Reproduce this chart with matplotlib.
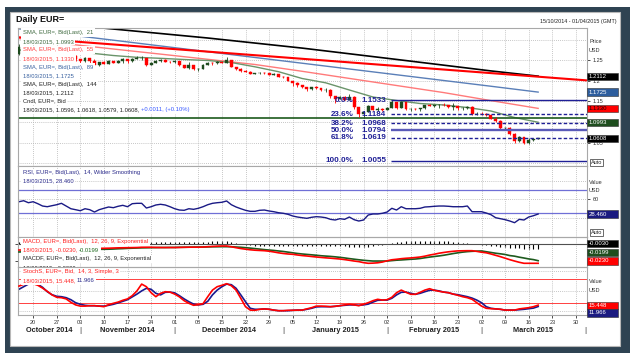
import numpy as np
import pandas as pd
import matplotlib
matplotlib.use("Agg")
import matplotlib.pyplot as plt
from matplotlib.patches import Rectangle
from matplotlib.transforms import blended_transform_factory as blend

plt.rcParams['font.family'] = ['Liberation Sans', 'DejaVu Sans']

W, H = 630, 358

# ---- data -------------------------------------------------------------
days = pd.bdate_range("2014-10-15", "2015-04-01")   # x axis, trading days

first_open = 1.2650
last_open = 1.0596
closes = [1.2816, 1.2810, 1.2760, 1.2800, 1.2712, 1.2645, 1.2650, 1.2670, 1.2700, 1.2735,
          1.2630, 1.2610, 1.2525, 1.2485, 1.2550, 1.2485, 1.2375, 1.2450, 1.2410, 1.2480,
          1.2440, 1.2475, 1.2525, 1.2475, 1.2535, 1.2545, 1.2545, 1.2390, 1.2440, 1.2470,
          1.2510, 1.2465, 1.2450, 1.2470, 1.2380, 1.2310, 1.2375, 1.2290, 1.2290, 1.2380,
          1.2440, 1.2420, 1.2465, 1.2440, 1.2500, 1.2340, 1.2290, 1.2230, 1.2225, 1.2170,
          1.2185, 1.2190, 1.2180, 1.2150, 1.2155, 1.2100, 1.2090, 1.2000, 1.1935, 1.1890,
          1.1840, 1.1790, 1.1840, 1.1830, 1.1775, 1.1780, 1.1630, 1.1565, 1.1610, 1.1545,
          1.1610, 1.1365, 1.1205, 1.1240, 1.1380, 1.1290, 1.1320, 1.1290, 1.1345, 1.1480,
          1.1340, 1.1480, 1.1315, 1.1325, 1.1310, 1.1330, 1.1400, 1.1390, 1.1405, 1.1410,
          1.1400, 1.1375, 1.1380, 1.1330, 1.1345, 1.1365, 1.1195, 1.1195, 1.1185, 1.1175,
          1.1075, 1.1030, 1.0845, 1.0850, 1.0700, 1.0550, 1.0630, 1.0495, 1.0570, 1.0595,
          1.0608]
highs = [1.2887, 1.2845, 1.2810, 1.2815, 1.2840, 1.2730, 1.2680, 1.2700, 1.2715, 1.2765,
         1.2770, 1.2645, 1.2620, 1.2530, 1.2580, 1.2560, 1.2530, 1.2460, 1.2470, 1.2500,
         1.2480, 1.2500, 1.2550, 1.2535, 1.2545, 1.2600, 1.2600, 1.2555, 1.2445, 1.2500,
         1.2530, 1.2525, 1.2480, 1.2500, 1.2475, 1.2385, 1.2455, 1.2385, 1.2315, 1.2400,
         1.2460, 1.2465, 1.2475, 1.2475, 1.2570, 1.2500, 1.2345, 1.2300, 1.2255, 1.2245,
         1.2200, 1.2205, 1.2205, 1.2190, 1.2180, 1.2165, 1.2105, 1.2100, 1.2005, 1.1960,
         1.1900, 1.1850, 1.1845, 1.1870, 1.1830, 1.1815, 1.1800, 1.1640, 1.1640, 1.1620,
         1.1680, 1.1630, 1.1365, 1.1270, 1.1420, 1.1385, 1.1365, 1.1345, 1.1375, 1.1535,
         1.1485, 1.1500, 1.1490, 1.1340, 1.1345, 1.1350, 1.1420, 1.1445, 1.1415, 1.1440,
         1.1450, 1.1410, 1.1450, 1.1385, 1.1360, 1.1390, 1.1390, 1.1240, 1.1230, 1.1225,
         1.1180, 1.1115, 1.1040, 1.0880, 1.0880, 1.0720, 1.0650, 1.0635, 1.0615, 1.0620,
         1.0618]
lows = [1.2620, 1.2745, 1.2720, 1.2740, 1.2700, 1.2640, 1.2615, 1.2630, 1.2655, 1.2680,
        1.2620, 1.2560, 1.2490, 1.2440, 1.2460, 1.2440, 1.2360, 1.2360, 1.2400, 1.2400,
        1.2420, 1.2430, 1.2440, 1.2440, 1.2465, 1.2520, 1.2500, 1.2360, 1.2385, 1.2420,
        1.2450, 1.2445, 1.2420, 1.2420, 1.2360, 1.2300, 1.2280, 1.2270, 1.2245, 1.2280,
        1.2380, 1.2390, 1.2400, 1.2420, 1.2430, 1.2330, 1.2260, 1.2215, 1.2205, 1.2160,
        1.2160, 1.2175, 1.2170, 1.2140, 1.2140, 1.2085, 1.2075, 1.2000, 1.1865, 1.1860,
        1.1820, 1.1755, 1.1775, 1.1800, 1.1760, 1.1730, 1.1575, 1.1460, 1.1550, 1.1540,
        1.1535, 1.1315, 1.1115, 1.1100, 1.1240, 1.1280, 1.1260, 1.1270, 1.1285, 1.1340,
        1.1325, 1.1340, 1.1300, 1.1270, 1.1290, 1.1275, 1.1310, 1.1385, 1.1355, 1.1350,
        1.1390, 1.1340, 1.1280, 1.1300, 1.1290, 1.1325, 1.1175, 1.1180, 1.1160, 1.1155,
        1.1060, 1.1000, 1.0840, 1.0820, 1.0690, 1.0495, 1.0525, 1.0465, 1.0460, 1.0530,
        1.0579]
opens = [first_open] + closes[:-1]
opens[-1] = last_open

# moving averages, read at a few trading-day positions
sma21_idx = list(range(0, 111, 5))
sma21 = [1.2747, 1.2722, 1.2698, 1.2674, 1.2613, 1.2569, 1.2545, 1.2516, 1.2492, 1.2443,
         1.2339, 1.2220, 1.2055, 1.1950, 1.1776, 1.1606, 1.1521, 1.1448, 1.1412, 1.1351,
         1.1266, 1.1108, 1.0993]
sma55_idx = list(range(0, 111, 10))
sma55 = [1.3023, 1.2897, 1.2771, 1.2647, 1.2521, 1.2395, 1.2230, 1.2057, 1.1885, 1.1713,
         1.1518, 1.1330]
sma_long_idx = [0, 20, 40, 60, 80, 100, 110]
sma89 = [1.3261, 1.2985, 1.2705, 1.2426, 1.2146, 1.1867, 1.1725]
sma144 = [1.3468, 1.3256, 1.3038, 1.2793, 1.2518, 1.2239, 1.2112]

trend_ends = [1.3057, 1.2009]     # red trend line, left edge -> right edge
support = 1.1089

fib_pcts = ["0.0%", "23.6%", "38.2%", "50.0%", "61.8%", "100.0%"]
fib_levels = [1.1533, 1.1184, 1.0968, 1.0794, 1.0619, 1.0055]
fib_start = 79                    # 03/02/2015 high

rsi = [54.8, 57, 52.7, 54.8, 50.6, 45.6, 44.1, 46.3, 48.4, 51.4,
       45.6, 39.8, 37.7, 35.5, 39.8, 37.7, 32.7, 37.7, 40.7, 43.5,
       42, 45, 47.1, 44.1, 50.6, 51.4, 51.4, 41.3, 44.1, 47.8,
       49.3, 47.8, 44.1, 39.8, 37, 36.4, 39.8, 38.5, 40.7, 44.1,
       48.4, 51.4, 52.7, 53.6, 56.4, 48.4, 43.5, 39.8, 36.4, 34.2,
       34.2, 36.4, 37, 34.9, 33.4, 31.2, 30, 27.8, 24.2, 22,
       20.5, 19.2, 21.4, 22.7, 22, 20.5, 17, 15.6, 18.4, 17,
       22, 16.3, 13.4, 15.6, 26.3, 28.5, 28.5, 30, 32.7, 40.7,
       37, 44.1, 39.8, 39.8, 39.8, 40.7, 43.5, 44.1, 45, 45.6,
       45.6, 45, 44.1, 44.1, 44.1, 45.6, 33.4, 33.4, 33.4, 30.6,
       27, 20.5, 18.4, 16.3, 13.4, 9.8, 17, 15.6, 22, 24.8,
       28.46]

# MACD values listed in units of 1e-4
macd = np.array([-72, -72, -68, -66, -63, -62, -60, -60, -57, -56,
                 -55, -54, -54, -52, -52, -52, -52, -52, -51, -50,
                 -48, -46, -45, -44, -43, -42, -39, -39, -39, -41,
                 -42, -42, -42, -42, -41, -39, -38, -38, -38, -36,
                 -32, -29, -26, -24, -24, -33, -44, -54, -62, -69,
                 -74, -77, -80, -86, -95, -105, -113, -119, -123, -131,
                 -138, -143, -149, -155, -160, -165, -169, -174, -179, -186,
                 -194, -203, -210, -222, -230, -228, -224, -215, -200, -188,
                 -182, -175, -170, -166, -161, -155, -145, -132, -122, -110,
                 -101, -93, -87, -82, -81, -80, -80, -88, -98, -105,
                 -119, -135, -151, -169, -187, -203, -218, -230, -230, -230,
                 -230]) / 1e4
macd_signal = np.array([-95, -93, -89, -86, -83, -80, -76, -74, -72, -69,
                        -67, -66, -64, -64, -63, -63, -63, -63, -63, -62,
                        -60, -57, -55, -52, -50, -48, -46, -45, -44, -43,
                        -42, -42, -41, -41, -39, -39, -38, -37, -36, -36,
                        -35, -33, -33, -32, -32, -33, -36, -39, -44, -49,
                        -55, -61, -67, -72, -77, -83, -89, -97, -105, -113,
                        -119, -124, -129, -134, -140, -144, -148, -153, -159, -166,
                        -174, -181, -188, -194, -199, -203, -203, -203, -203, -198,
                        -193, -190, -186, -182, -179, -173, -164, -156, -149, -142,
                        -134, -124, -114, -105, -97, -91, -87, -85, -83, -92,
                        -101, -110, -117, -125, -138, -145, -157, -167, -178, -186,
                        -199]) / 1e4
macd_hist = np.array([10, 10, 10, 10, 10, 10, 10, 9, 9, 9, 9, 9, 9,
                      10, 10, 10, 11, 11, 11, 11, 11, 12, 12, 12, 12, 12, 12, 12, 11, 11, 11,
                      10, 10, 10, 10, 10, 11, 11, 12, 13, 14, 15, 16, 16, 15,
                      10, 4, -2, -5, -8, -10, -10, -10, -10, -10, -10, -10, -10,
                      -10, -10, -11, -11, -12, -12, -12, -13, -13, -13, -14, -14, -15, -15,
                      -16, -16, -15, -12, -8, -4,
                      2, 6, 10, 13, 15, 16, 17, 18, 18, 18, 18, 17, 16, 15, 13, 11, 8, 5, 2,
                      -2, -5, -8, -11, -14, -17, -19, -21, -23, -25, -27, -28, -29, -30]) / 1e4

stoch_k = [63, 67.5, 68, 69, 65, 58, 50, 41, 35, 34,
           31, 22.5, 16, 13, 13, 14, 14, 13, 11.5, 16.5,
           20, 23, 27.5, 31, 39, 51, 68, 61.5, 46.5, 36.5,
           45, 49, 48, 43, 36, 26.5, 20, 15, 16.5, 19,
           36.5, 53, 61.5, 65, 69, 64, 53, 32.5, 11.5, 3,
           2.5, 5, 6, 5, 3, 1.5, 1.5, 2.5, 2.5, 3,
           3, 6, 9, 13, 13, 12.5, 11.5, 12.5, 14, 16,
           17.5, 16, 14, 17.5, 21.5, 26.5, 30, 28, 29, 35,
           46.5, 53, 47.5, 42.5, 42.5, 47.5, 53, 56.5, 52.5, 50,
           48, 46.5, 43, 40, 36.5, 34, 30, 21.5, 13, 7.5,
           6.5, 6, 5, 3, 3, 3, 6, 7.5, 9, 11.5,
           15.448]
stoch_d = [55, 61.5, 68, 71.5, 67.5, 60, 49, 41.5, 37.5, 36.5,
           34, 29, 21.5, 17.5, 15, 14, 14, 13, 13, 15,
           17.5, 21, 25, 29, 36, 43, 51, 57.5, 55, 45,
           41, 47.5, 48, 46, 39, 31, 24, 18, 16, 17.5,
           25, 41, 53, 61.5, 68, 66.5, 57.5, 41, 24, 7.5,
           5, 5, 6, 5, 3, 1.5, 1.5, 1.5, 2.5, 3,
           3, 5, 7.5, 11, 11.5, 11.5, 11.5, 12.5, 14, 15,
           16, 16, 15, 16, 18, 23, 27.5, 28, 28, 32.5,
           41, 47.5, 48, 45, 42.5, 45, 49, 52.5, 53, 51,
           48, 46.5, 43, 41.5, 39, 36.5, 33, 28, 21.5, 11.5,
           7.5, 6, 5, 3, 3, 3, 4, 5, 6.5, 8,
           11.966]

# ---- style ------------------------------------------------------------
GRID = '#b4b4b4'
NAVY = '#1f1f96'
UP = '#1d4a1d'
DOWN = '#ff0000'
LFS = 4.2
X0, X1 = 18, 587

fig = plt.figure(figsize=(W / 100, H / 100), dpi=100)
fig.patch.set_facecolor('white')
fig.add_artist(Rectangle((5 / W, 1 - 353 / H), 625 / W, 346 / H, transform=fig.transFigure,
                         fc='#2f4352', ec='none', zorder=-10))
fig.add_artist(Rectangle((10 / W, 1 - 346 / H), 610 / W, 334 / H, transform=fig.transFigure,
                         fc='white', ec='#b8b8b8', lw=0.8, zorder=-9))

n = len(closes)
idx = np.arange(n)
mondays = [i for i, d in enumerate(days) if d.weekday() == 0]


def panel(top, bottom, ylim):
    ax = fig.add_axes([X0 / W, 1 - bottom / H, (X1 - X0) / W, (bottom - top) / H])
    ax.set_xlim(-0.2, 120.35)
    ax.set_ylim(*ylim)
    for s in ax.spines.values():
        s.set_color('#a8a8a8')
        s.set_linewidth(0.8)
    ax.tick_params(axis='x', bottom=False, labelbottom=False)
    ax.yaxis.tick_right()
    ax.tick_params(axis='y', right=False, labelright=False, labelsize=4, length=2.5,
                   width=0.6, pad=1.5, colors='#303030')
    for m in mondays:
        ax.axvline(m, color=GRID, lw=0.6, ls=(0, (1, 1.5)), zorder=0)
    ax.top_px, ax.bot_px = top, bottom
    return ax


def legend_line(ax, y, parts):
    # each legend row sits on its own white strip, so rows touch and hide what is behind
    yy = (ax.bot_px - y) / (ax.bot_px - ax.top_px)
    box = dict(boxstyle='square,pad=0.28', fc='white', ec='none')
    t = ax.text((23 - X0) / (X1 - X0), yy, parts[0][0], color=parts[0][1], transform=ax.transAxes,
                fontsize=LFS, va='center', ha='left', bbox=box, zorder=6, clip_on=True)
    for s, c in parts[1:]:
        t = ax.annotate(s, xy=(1, 0), xycoords=t, color=c, fontsize=LFS, va='bottom',
                        ha='left', bbox=box, zorder=6)


def ypx(ax, v):
    return H - ax.transData.transform((0, v))[1]


def tag(y, s, fc, tc='white'):
    fig.add_artist(Rectangle((587 / W, 1 - (y + 3.6) / H), 31 / W, 7.2 / H,
                             transform=fig.transFigure, fc=fc, ec='#303030', lw=0.4, zorder=5))
    fig.text(589 / W, 1 - y / H, s, color=tc, fontsize=4.3, va='center', ha='left', zorder=6)


def auto_box(y):
    fig.text(591 / W, 1 - y / H, "Auto", fontsize=4, va='center', ha='left', color='#202020',
             bbox=dict(boxstyle='square,pad=0.15', fc='white', ec='#303030', lw=0.5))


def side_text(y, s):
    fig.text(589 / W, 1 - y / H, s, fontsize=4, va='center', ha='left', color='#303030')


# ---- price panel --------------------------------------------------------
ax = panel(28, 166, (0.9931, 1.3281))
for g in [1.0, 1.05, 1.1, 1.15, 1.2, 1.25, 1.3]:
    ax.axhline(g, color=GRID, lw=0.6, ls=(0, (1, 1.5)), zorder=0)
ax.set_yticks([1.05, 1.1, 1.15, 1.2, 1.25])
ax.set_yticklabels(['1.05', '', '1.15', '1.2', '1.25'])   # 1.1 sits under the SMA21 tag
ax.tick_params(axis='y', right=True, labelright=True)

ax.plot(sma_long_idx, sma144, color='black', lw=1.2, zorder=2)
ax.plot(sma_long_idx, sma89, color='#5a7fb8', lw=1.0, zorder=2)
ax.plot(sma55_idx, sma55, color='#ff7a7a', lw=1.0, zorder=2)
ax.plot(sma21_idx, sma21, color='#6a946a', lw=1.0, zorder=2)
ax.plot(ax.get_xlim(), trend_ends, color='#ff0000', lw=1.5, zorder=2)
ax.axhline(support, color='#1d5a1d', lw=1.2, zorder=2)

o = np.array(opens)
c = np.array(closes)
cols = [UP if cc >= oo else DOWN for oo, cc in zip(o, c)]
ax.vlines(idx, lows, highs, colors=cols, lw=0.6, zorder=3)
ax.bar(idx, np.maximum(np.abs(c - o), 0.0003), bottom=np.minimum(o, c), width=0.62,
       color=cols, edgecolor=cols, lw=0.3, zorder=3)

for k, (pct, lev) in enumerate(zip(fib_pcts, fib_levels)):
    if pct in ("0.0%", "100.0%"):
        ax.hlines(lev, fib_start - 0.2, 120.35, color=NAVY, lw=1.0, zorder=4)
    elif pct == "50.0%":
        ax.hlines(lev, fib_start - 0.2, 120.35, color='#5a5ab8', lw=1.7, zorder=4)
    else:
        ax.hlines(lev, fib_start - 0.2, 120.35, color=NAVY, lw=1.0, ls=(0, (2.5, 1.5)), zorder=4)
    ax.text(70.9, lev, pct, color=NAVY, fontsize=5.8, fontweight='bold', ha='right',
            va='center', zorder=5)
    ax.text(72.6, lev, f"{lev:.4f}", color=NAVY, fontsize=5.8, fontweight='bold', ha='left',
            va='center', zorder=5)

legend_line(ax, 32.5, [("SMA, EUR=, Bid(Last),  21", '#3f6a3f')])
legend_line(ax, 41.3, [("18/03/2015, 1.0993", '#3f6a3f')])
legend_line(ax, 49.9, [("SMA, EUR=, Bid(Last),  55", '#ff4040')])
legend_line(ax, 58.5, [("18/03/2015, 1.1330", '#ff4040')])
legend_line(ax, 67.0, [("SMA, EUR=, Bid(Last),  89", '#3a62a0')])
legend_line(ax, 75.6, [("18/03/2015, 1.1725", '#3a62a0')])
legend_line(ax, 84.1, [("SMA, EUR=, Bid(Last),  144", '#222222')])
legend_line(ax, 92.7, [("18/03/2015, 1.2112", '#222222')])
legend_line(ax, 101.2, [("Cndl, EUR=, Bid", '#222222')])
legend_line(ax, 109.8, [("18/03/2015, 1.0596, 1.0618, 1.0579, 1.0608, ", '#222222'),
                        ("+0.0011, (+0.10%)", '#3355ff')])

side_text(41.7, "Price")
side_text(50.7, "USD")
tag(ypx(ax, sma144[-1]), "1.2112", 'black')
tag(ypx(ax, sma89[-1]), "1.1725", '#2d5d9d')
tag(ypx(ax, sma55[-1]), "1.1330", '#ff0000', '#200000')
tag(ypx(ax, sma21[-1]), "1.0993", '#1e4e1e')
tag(ypx(ax, closes[-1]), "1.0608", 'black')
auto_box(162.5)

# ---- RSI panel ----------------------------------------------------------
ar = panel(166, 237, (-20.9, 131.5))
for g in [20, 60, 100]:
    ar.axhline(g, color=GRID, lw=0.6, ls=(0, (1, 1.5)), zorder=0)
ar.set_yticks([60])
ar.set_yticklabels(['60'])
ar.tick_params(axis='y', right=True, labelright=True)
ar.axhline(80, color='#6f6fd6', lw=0.9, zorder=1)
ar.axhline(30, color='#6f6fd6', lw=0.9, zorder=1)
ar.plot(idx, rsi, color='#1a1a85', lw=1.0, zorder=2)
legend_line(ar, 172.7, [("RSI, EUR=, Bid(Last),  14, Wilder Smoothing", '#2a2a8a')])
legend_line(ar, 180.9, [("18/03/2015, 28.460", '#2a2a8a')])
side_text(182.0, "Value")
side_text(190.5, "USD")
tag(ypx(ar, rsi[-1]), "28.460", '#1a1a80')
auto_box(232.5)

# ---- MACD panel ---------------------------------------------------------
am = panel(237, 267, (-0.02741, 0.00834))
ah = am.twinx()
ah.set_ylim(-0.02741 / 2, 0.00834 / 2)
ah.axis('off')
ah.vlines(idx, 0, macd_hist, colors='black', lw=0.8, zorder=2)
am.axhline(0, color='#505050', lw=0.8, zorder=1)
am.plot(idx, macd_signal, color='#1e5a1e', lw=1.2, zorder=3)
am.plot(idx, macd, color='#ff0000', lw=1.2, zorder=3)
am.set_zorder(1)
ah.set_zorder(0)
am.patch.set_visible(False)
legend_line(am, 241.8, [("MACD, EUR=, Bid(Last),  12, 26, 9, Exponential", '#ff2020')])
legend_line(am, 250.2, [("18/03/2015, -0.0230, ", '#ff2020'), ("-0.0199", '#1e6a1e')])
legend_line(am, 258.8, [("MACDF, EUR=, Bid(Last),  12, 26, 9, Exponential", '#222222')])
legend_line(am, 267.3, [("18/03/2015, -0.0030", '#222222')])
tag(243.4, "-0.0030", 'black')
tag(252.6, "-0.0199", '#1e4e1e')
tag(261.0, "-0.0230", '#ff0000')

# ---- Stochastics panel --------------------------------------------------
ast = panel(267, 315, (-9.25, 110.75))
for g in [0, 50, 100]:
    ast.axhline(g, color=GRID, lw=0.6, ls=(0, (1, 1.5)), zorder=0)
ast.axhline(80, color='#ff4040', lw=0.7, zorder=1)
ast.axhline(20, color='#ff4040', lw=0.7, zorder=1)
ast.plot(idx, stoch_d, color='#1a1a90', lw=1.2, zorder=2)
ast.plot(idx, stoch_k, color='#ff0000', lw=1.2, zorder=3)
legend_line(ast, 271.7, [("StochS, EUR=, Bid,  14, 3, Simple, 3", '#ff2020')])
legend_line(ast, 280.7, [("18/03/2015, 15.448, ", '#ff2020'), ("11.966", '#2a2a8a')])
side_text(281.7, "Value")
side_text(290.5, "USD")
tag(ypx(ast, stoch_k[-1]), "15.448", '#ff0000')
tag(313.0, "11.966", '#1a1a80')

ast.set_xticks(mondays)
ast.set_xticklabels([days[i].strftime('%d') for i in mondays])
ast.tick_params(axis='x', bottom=True, labelbottom=True, labelsize=4, length=2, width=0.6,
                pad=1.5, colors='#303030')

# month labels and separators under the day numbers
starts = [i for i in range(1, len(days)) if days[i].month != days[i - 1].month]
bounds = [-0.2] + starts
tr = blend(ast.transData, fig.transFigure)
for a, b in zip(bounds[:-1], bounds[1:]):
    ast.text((a + b) / 2, 1 - 331 / H, days[max(int(np.ceil(a)), 0)].strftime('%B %Y'),
             transform=tr, fontsize=5.3, fontweight='bold', ha='center', va='center',
             color='#202020', clip_on=False)
for s in starts:
    ast.text(s, 1 - 331 / H, '|', transform=tr, fontsize=6, ha='center', va='center',
             color='#303030', clip_on=False)

# ---- titles ---------------------------------------------------------------
fig.text(16 / W, 1 - 20 / H, "Daily EUR=", fontsize=6.5, fontweight='bold', va='center',
         color='#101010')
fig.text(617 / W, 1 - 22 / H, "15/10/2014 - 01/04/2015 (GMT)", fontsize=3.9, ha='right',
         va='center', color='#202020')

fig.savefig("out.png", dpi=100)
